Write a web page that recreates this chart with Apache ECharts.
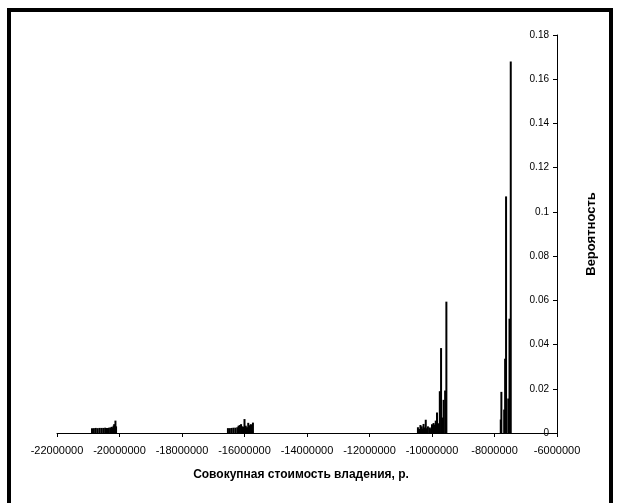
<!DOCTYPE html>
<html>
<head>
<meta charset="utf-8">
<script src="https://cdn.jsdelivr.net/npm/echarts@6/dist/echarts.min.js"></script>
<style>
html, body { margin: 0; padding: 0; background: #fff; overflow: hidden; }
#frame {
	position: absolute; left: 7px; top: 8px; width: 598px; height: 520px;
	border: 4px solid #000;
}
#chart { position: absolute; left: 0; top: 0; width: 619px; height: 503px; }
</style>
</head>
<body>
<div id="frame"></div>
<div id="chart"></div>
<script>
// стоимость владения, млн р.
const costs = [
	// кластер 1
	-20.88, -20.82, -20.76, -20.70, -20.64, -20.58, -20.52, -20.46, -20.40, -20.34,
	-20.29, -20.25, -20.22, -20.19, -20.17, -20.15, -20.13, -20.11,
	// кластер 2
	-16.53, -16.47, -16.41, -16.35, -16.29, -16.23, -16.19, -16.15, -16.11, -16.07,
	-16.03, -16.00, -15.96, -15.92, -15.88, -15.84, -15.80, -15.76, -15.73,
	// кластер 3
	-10.45, -10.41, -10.37, -10.33, -10.29, -10.27, -10.23, -10.20, -10.16, -10.13,
	-10.07, -10.03, -10.00, -9.97, -9.95, -9.91, -9.88, -9.84, -9.80, -9.75,
	-9.71, -9.67, -9.63, -9.58, -9.54,
	// кластер 4
	-7.80, -7.78, -7.69, -7.66, -7.63, -7.56, -7.52, -7.48
];
const probs = [
	0.0022, 0.0022, 0.0023, 0.0022, 0.0023, 0.0023, 0.0023, 0.0024, 0.0023, 0.0024,
	0.0025, 0.0028, 0.0025, 0.0033, 0.0040, 0.0030, 0.0056, 0.0030,
	0.0022, 0.0022, 0.0023, 0.0024, 0.0024, 0.0026, 0.0033, 0.0036, 0.0040, 0.0030,
	0.0028, 0.0063, 0.0033, 0.0026, 0.0046, 0.0035, 0.0040, 0.0037, 0.0047,
	0.0026, 0.0018, 0.0036, 0.0030, 0.0020, 0.0041, 0.0025, 0.0060, 0.0022, 0.0030,
	0.0025, 0.0020, 0.0040, 0.0032, 0.0045, 0.0038, 0.0056, 0.0093, 0.0044, 0.0189,
	0.0384, 0.0070, 0.0150, 0.0192, 0.0594,
	0.0061, 0.0186, 0.0106, 0.0336, 0.1070, 0.0156, 0.0517, 0.1680
];
const xName = 'Совокупная стоимость владения, р.';
const yName = 'Вероятность';

const font = '"Liberation Sans", Arial, sans-serif';
const chart = echarts.init(document.getElementById('chart'));

chart.setOption({
	animation: false,
	grid: { left: 57, right: 62, top: 35, bottom: 70 },
	xAxis: {
		type: 'value',
		min: -22000000,
		max: -6000000,
		interval: 2000000,
		name: xName,
		nameLocation: 'middle',
		nameGap: 36,
		nameTextStyle: {
			fontFamily: font, fontSize: 12, fontWeight: 'bold', color: '#000',
			padding: [0, 12, 0, 0]
		},
		axisLine: { lineStyle: { color: '#000', width: 1 } },
		axisTick: { length: 4, lineStyle: { color: '#000' } },
		axisLabel: {
			fontFamily: font, fontSize: 11, color: '#000', margin: 12,
			formatter: v => String(v)
		},
		splitLine: { show: false }
	},
	yAxis: {
		type: 'value',
		position: 'right',
		min: 0,
		max: 0.18,
		interval: 0.02,
		name: yName,
		nameLocation: 'middle',
		nameRotate: 90,
		nameGap: 28,
		nameTextStyle: { fontFamily: font, fontSize: 13, fontWeight: 'bold', color: '#000' },
		axisLine: { show: true, lineStyle: { color: '#000', width: 1 } },
		axisTick: { show: true, inside: true, length: 4, lineStyle: { color: '#000' } },
		axisLabel: { inside: true, fontFamily: font, fontSize: 10, color: '#000', margin: 8 },
		splitLine: { show: false }
	},
	series: [{
		type: 'bar',
		barWidth: 2,
		itemStyle: { color: '#000' },
		data: costs.map((c, i) => [c * 1e6, probs[i]])
	}]
});
</script>
</body>
</html>
